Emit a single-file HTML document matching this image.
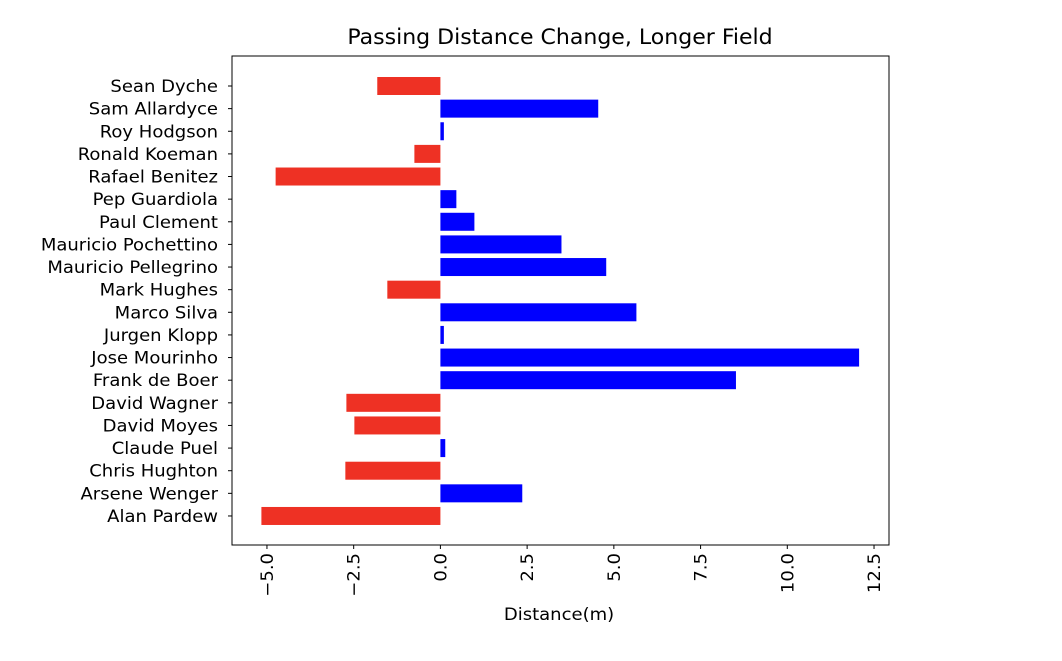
<!DOCTYPE html>
<html><head><meta charset="utf-8"><style>
body{margin:0;background:#fff;}
svg text{font-family:"DejaVu Sans","Liberation Sans",sans-serif;fill:#000;}
</style></head><body>
<svg id="chart" width="1062" height="656" xmlns="http://www.w3.org/2000/svg">
<text transform="translate(560,44) scale(1.05,1)" font-size="21" text-anchor="middle">Passing Distance Change, Longer Field</text>
<g id="bars"></g>
<g id="yticks"></g>
<g id="xticks"></g>
<rect x="232" y="56" width="657" height="489" fill="none" stroke="#000" stroke-width="1"/>
<text transform="translate(559,620) scale(1.06,1)" font-size="17" text-anchor="middle">Distance(m)</text>
</svg>
<script>
const managers=["Sean Dyche","Sam Allardyce","Roy Hodgson","Ronald Koeman","Rafael Benitez","Pep Guardiola","Paul Clement","Mauricio Pochettino","Mauricio Pellegrino","Mark Hughes","Marco Silva","Jurgen Klopp","Jose Mourinho","Frank de Boer","David Wagner","David Moyes","Claude Puel","Chris Hughton","Arsene Wenger","Alan Pardew"];
const distances=[-1.82,4.55,0.1,-0.75,-4.75,0.46,0.98,3.49,4.78,-1.53,5.65,0.1,12.07,8.52,-2.71,-2.48,0.14,-2.74,2.36,-5.16];
const xTickValues=[-5,-2.5,0,2.5,5,7.5,10,12.5];
const xTickLabels=["\u22125.0","\u22122.5","0.0","2.5","5.0","7.5","10.0","12.5"];
const NS="http://www.w3.org/2000/svg";
const x=v=>440.4+v*34.69;
const y=i=>86+i*22.63;
const bh=18;
const bars=document.getElementById('bars'),yt=document.getElementById('yticks'),xt=document.getElementById('xticks');
managers.forEach((m,i)=>{
  const v=distances[i];
  const r=document.createElementNS(NS,'rect');
  r.setAttribute('x',Math.min(x(0),x(v)));r.setAttribute('y',y(i)-bh/2);
  r.setAttribute('width',Math.abs(x(v)-x(0)));r.setAttribute('height',bh);
  r.setAttribute('fill',v<0?'#ee3124':'#0000ff');
  
  
  bars.appendChild(r);
  const l=document.createElementNS(NS,'line');
  l.setAttribute('x1',228);l.setAttribute('x2',232);l.setAttribute('y1',y(i));l.setAttribute('y2',y(i));l.setAttribute('stroke','#000');
  yt.appendChild(l);
  const t=document.createElementNS(NS,'text');
  t.setAttribute('transform','translate(218,'+(y(i)+6)+') scale(1.06,1)');
  t.setAttribute('font-size','17');t.setAttribute('text-anchor','end');
  t.textContent=m;
  
  
  yt.appendChild(t);
});
xTickValues.forEach((v,i)=>{
  const l=document.createElementNS(NS,'line');
  l.setAttribute('x1',x(v));l.setAttribute('x2',x(v));l.setAttribute('y1',545);l.setAttribute('y2',549);l.setAttribute('stroke','#000');
  xt.appendChild(l);
  const t=document.createElementNS(NS,'text');
  t.setAttribute('font-size','17');t.setAttribute('text-anchor','end');
  t.setAttribute('transform','translate('+(x(v)+6)+',553) rotate(-90) scale(1.06,1)');
  t.textContent=xTickLabels[i];
  
  
  xt.appendChild(t);
});
</script>
</body></html>
